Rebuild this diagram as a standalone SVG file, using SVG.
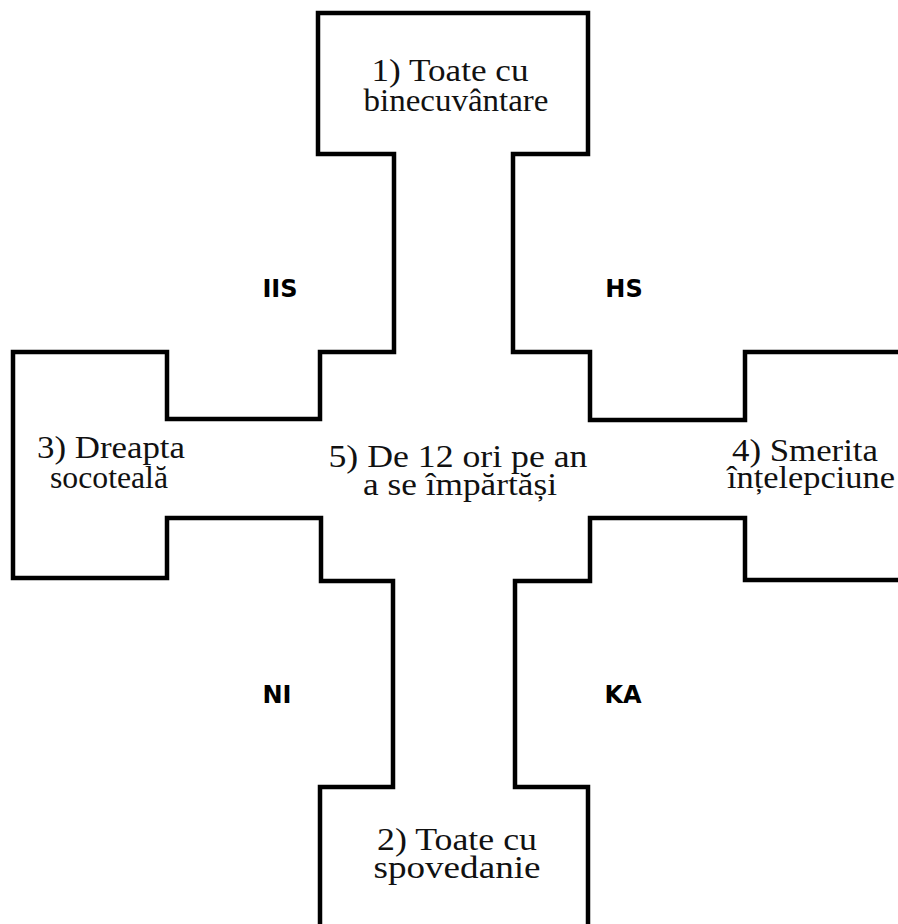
<svg xmlns="http://www.w3.org/2000/svg" width="898" height="924" viewBox="0 0 898 924">
<style>
.edge{fill:none;stroke:#000;stroke-width:4.5;stroke-linejoin:miter;stroke-linecap:square}
.t{font-family:"Liberation Serif","Times New Roman",serif;font-size:31px;fill:#111;text-anchor:middle}
.b{font-family:"DejaVu Sans","Liberation Sans",sans-serif;font-weight:bold;font-size:24px;fill:#000;text-anchor:middle}
</style>
<rect width="898" height="924" fill="#fff"/>
<g id="outline">
<path class="edge" d="M320 926 L320 787 L393 787 L393 581 L321 581 L321 518 L167 518 L167 578 L13 578 L13 352 L167 352 L167 419 L320 419 L320 352 L394 352 L394 154 L318 154 L318 13 L588 13 L588 154 L513 154 L513 352 L590 352 L590 420 L745 420 L745 352 L900 352"/>
<path class="edge" d="M900 580 L745 580 L745 518 L590 518 L590 581 L515 581 L515 787 L588 787 L588 926"/>
</g>
<g id="node-1">
<text class="t" x="450" y="81" textLength="157" lengthAdjust="spacingAndGlyphs">1) Toate cu</text>
<text class="t" x="456" y="111" textLength="185" lengthAdjust="spacingAndGlyphs">binecuvântare</text>
</g>
<g id="node-3">
<text class="t" x="111" y="458" textLength="148" lengthAdjust="spacingAndGlyphs">3) Dreapta</text>
<text class="t" x="109" y="488" textLength="118" lengthAdjust="spacingAndGlyphs">socoteală</text>
</g>
<g id="node-5">
<text class="t" x="458" y="467" textLength="259" lengthAdjust="spacingAndGlyphs">5) De 12 ori pe an</text>
<text class="t" x="460" y="495" textLength="194" lengthAdjust="spacingAndGlyphs">a se împărtăși</text>
</g>
<g id="node-4">
<text class="t" x="805" y="461" textLength="146" lengthAdjust="spacingAndGlyphs">4) Smerita</text>
<text class="t" x="811" y="488" textLength="168" lengthAdjust="spacingAndGlyphs">înțelepciune</text>
</g>
<g id="node-2">
<text class="t" x="457" y="850" textLength="160" lengthAdjust="spacingAndGlyphs">2) Toate cu</text>
<text class="t" x="457" y="878" textLength="167" lengthAdjust="spacingAndGlyphs">spovedanie</text>
</g>
<g id="labels">
<text class="b" x="280" y="297">IIS</text>
<text class="b" x="624" y="297">HS</text>
<text class="b" x="277" y="703">NI</text>
<text class="b" x="623" y="703">KA</text>
</g>
</svg>
